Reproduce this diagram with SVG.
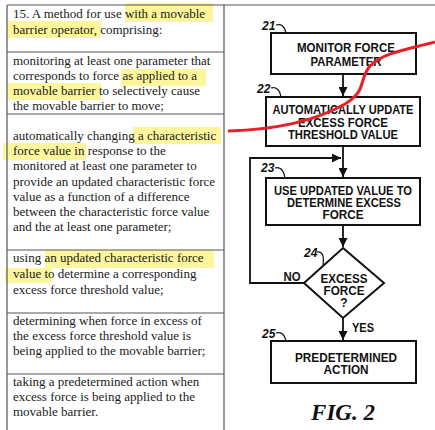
<svg xmlns="http://www.w3.org/2000/svg" width="435" height="430" viewBox="0 0 435 430">
<defs>
<style>
.t{font-family:"Liberation Serif","Times New Roman",serif;font-size:13px;fill:#1a1a1a}
.hl{fill:#fbf05a;opacity:0.6}
.tb{stroke:#555;stroke-width:1.2;fill:none}
.bx{fill:#fff;stroke:#111;stroke-width:2}
.f{font-family:"Liberation Sans",Arial,sans-serif;font-weight:bold;font-size:12px;fill:#111;text-anchor:middle}
.n{font-family:"Liberation Sans",Arial,sans-serif;font-weight:bold;font-style:italic;font-size:12px;fill:#111}
.ln{stroke:#111;stroke-width:1.8;fill:none}
.lk{stroke:#111;stroke-width:1.2;fill:none}
</style>
<marker id="ah" viewBox="0 0 10 10" refX="10" refY="5" markerWidth="5" markerHeight="5" orient="auto">
<path d="M0,0 L10,5 L0,10 z" fill="#111"/>
</marker>
</defs>
<rect width="435" height="430" fill="#fff"/>

<g id="highlights">
<rect class="hl" x="125" y="3" width="88" height="19"/>
<rect class="hl" x="7" y="21" width="94" height="17"/>
<rect class="hl" x="121" y="69" width="85" height="17"/>
<rect class="hl" x="7" y="83" width="94" height="17"/>
<rect class="hl" x="133" y="127" width="88" height="17"/>
<rect class="hl" x="3" y="143" width="83" height="17"/>
<rect class="hl" x="45" y="250" width="169" height="18"/>
<rect class="hl" x="5" y="268" width="47" height="15"/>
</g>

<g id="table">
<line class="tb" x1="7" y1="5" x2="435" y2="5" stroke="#888"/>
<line class="tb" x1="7" y1="5" x2="7" y2="430"/>
<line class="tb" x1="224" y1="5" x2="224" y2="430"/>
<line class="tb" x1="7" y1="52" x2="224" y2="52"/>
<line class="tb" x1="7" y1="114" x2="224" y2="114"/>
<line class="tb" x1="7" y1="250" x2="224" y2="250"/>
<line class="tb" x1="7" y1="313" x2="224" y2="313"/>
<line class="tb" x1="7" y1="374" x2="224" y2="374"/>
</g>

<g id="claim-text">
<text class="t" x="13" y="18">15. A method for use with a movable</text>
<text class="t" x="13" y="34">barrier operator, comprising:</text>
<text class="t" x="13" y="65">monitoring at least one parameter that</text>
<text class="t" x="13" y="80">corresponds to force as applied to a</text>
<text class="t" x="13" y="95">movable barrier to selectively cause</text>
<text class="t" x="13" y="110">the movable barrier to move;</text>
<text class="t" x="13" y="140">automatically changing a characteristic</text>
<text class="t" x="13" y="155">force value in response to the</text>
<text class="t" x="13" y="170">monitored at least one parameter to</text>
<text class="t" x="13" y="186">provide an updated characteristic force</text>
<text class="t" x="13" y="201">value as a function of a difference</text>
<text class="t" x="13" y="216">between the characteristic force value</text>
<text class="t" x="13" y="231">and the at least one parameter;</text>
<text class="t" x="13" y="262">using an updated characteristic force</text>
<text class="t" x="13" y="278">value to determine a corresponding</text>
<text class="t" x="13" y="294">excess force threshold value;</text>
<text class="t" x="13" y="325">determining when force in excess of</text>
<text class="t" x="13" y="340">the excess force threshold value is</text>
<text class="t" x="13" y="355">being applied to the movable barrier;</text>
<text class="t" x="13" y="386">taking a predetermined action when</text>
<text class="t" x="13" y="401">excess force is being applied to the</text>
<text class="t" x="13" y="416">movable barrier.</text>
</g>

<g id="connectors">
<line class="ln" x1="343" y1="74" x2="343" y2="96" marker-end="url(#ah)"/>
<line class="ln" x1="343" y1="146" x2="343" y2="177" marker-end="url(#ah)"/>
<polyline class="ln" points="304,283 250,283 250,158 341,158" marker-end="url(#ah)"/>
<line class="ln" x1="343" y1="225" x2="343" y2="247" marker-end="url(#ah)"/>
<line class="ln" x1="343" y1="318" x2="343" y2="340" marker-end="url(#ah)"/>
<text class="f" x="292" y="281" textLength="17" lengthAdjust="spacingAndGlyphs">NO</text>
<text class="f" x="363" y="332" textLength="22" lengthAdjust="spacingAndGlyphs">YES</text>
</g>

<g id="node21">
<rect class="bx" x="271" y="33" width="145" height="41"/>
<text class="f" x="346" y="52" textLength="98" lengthAdjust="spacingAndGlyphs">MONITOR FORCE</text>
<text class="f" x="346" y="66" textLength="71" lengthAdjust="spacingAndGlyphs">PARAMETER</text>
<text class="n" x="262" y="30">21</text>
<path class="lk" d="M276,25 q8,-2 10,8"/>
</g>

<g id="node22">
<rect class="bx" x="266" y="97" width="154" height="49"/>
<text class="f" x="343" y="114" textLength="141" lengthAdjust="spacingAndGlyphs">AUTOMATICALLY UPDATE</text>
<text class="f" x="343" y="127" textLength="90" lengthAdjust="spacingAndGlyphs">EXCESS FORCE</text>
<text class="f" x="343" y="139" textLength="110" lengthAdjust="spacingAndGlyphs">THRESHOLD VALUE</text>
<text class="n" x="257" y="93">22</text>
<path class="lk" d="M271,88 q8,-2 10,9"/>
</g>

<g id="node23">
<rect class="bx" x="266" y="178" width="154" height="47"/>
<text class="f" x="343" y="195" textLength="138" lengthAdjust="spacingAndGlyphs">USE UPDATED VALUE TO</text>
<text class="f" x="344" y="207" textLength="114" lengthAdjust="spacingAndGlyphs">DETERMINE EXCESS</text>
<text class="f" x="343" y="219" textLength="41" lengthAdjust="spacingAndGlyphs">FORCE</text>
<text class="n" x="261" y="172">23</text>
<path class="lk" d="M275,168 q8,-2 10,10"/>
</g>

<g id="node24">
<polygon class="bx" points="343,248 384,283 343,318 304,283"/>
<text class="f" x="344" y="283" textLength="47" lengthAdjust="spacingAndGlyphs">EXCESS</text>
<text class="f" x="344" y="295" textLength="41" lengthAdjust="spacingAndGlyphs">FORCE</text>
<text class="f" x="344" y="307">?</text>
<text class="n" x="304" y="257">24</text>
<path class="lk" d="M317,252 q8,-1 6,13"/>
</g>

<g id="node25">
<rect class="bx" x="271" y="341" width="145" height="42"/>
<text class="f" x="346" y="362" textLength="102" lengthAdjust="spacingAndGlyphs">PREDETERMINED</text>
<text class="f" x="346" y="374" textLength="45" lengthAdjust="spacingAndGlyphs">ACTION</text>
<text class="n" x="262" y="338">25</text>
<path class="lk" d="M276,333 q8,-2 10,8"/>
</g>

<text x="343" y="420" text-anchor="middle" font-family="Liberation Serif,'Times New Roman',serif" font-weight="bold" font-style="italic" font-size="23" fill="#111">FIG. 2</text>

<path d="M228,131 C265,130 310,124 345,104 C368,90 358,80 370,66 C385,52 405,50 435,42" fill="none" stroke="#e8202a" stroke-width="3"/>
</svg>
